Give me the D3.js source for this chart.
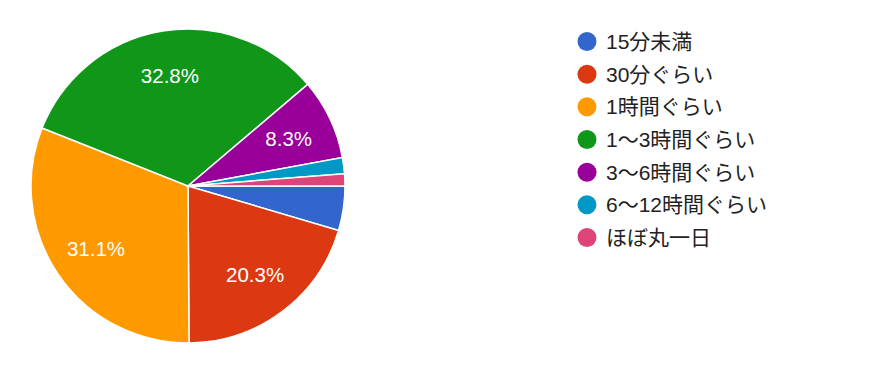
<!DOCTYPE html>
<html>
<head>
<meta charset="utf-8">
<script src="https://cdn.jsdelivr.net/npm/d3@7"></script>
<style>
  body { margin: 0; background: #fff; }
  text { font-family: "Liberation Sans", Arial, "Noto Sans CJK JP", sans-serif; }
</style>
</head>
<body>
<div id="chart"></div>
<script>
// answers, in order (n = 241)
const categories = ["15分未満", "30分ぐらい", "1時間ぐらい", "1～3時間ぐらい", "3～6時間ぐらい", "6～12時間ぐらい", "ほぼ丸一日"];
const counts = [11, 49, 75, 79, 20, 4, 3];
const colors = ["#3366cc", "#dc3912", "#ff9900", "#109618", "#990099", "#0099c6", "#dd4477"];

const W = 885, H = 368;
const cx = 188, cy = 186, R = 157;

const svg = d3.select("#chart").append("svg")
  .attr("width", W).attr("height", H);

const total = d3.sum(counts);
const data = categories.map((c, i) => ({name: c, value: counts[i], color: colors[i]}));

// starts at 3 o'clock, clockwise, keep order
const pie = d3.pie().value(d => d.value).sort(null)
  .startAngle(Math.PI / 2).endAngle(Math.PI / 2 + 2 * Math.PI);
const arcs = pie(data);

const arc = d3.arc().innerRadius(0).outerRadius(R);
const labelArc = d3.arc().innerRadius(R * 0.71).outerRadius(R * 0.71);

const g = svg.append("g").attr("transform", `translate(${cx},${cy})`);

g.selectAll("path")
  .data(arcs)
  .join("path")
  .attr("d", arc)
  .attr("fill", d => d.data.color)
  .attr("stroke", "#fff")
  .attr("stroke-width", 1.5);

const fmt = v => (v / total * 100).toFixed(1) + "%";

g.selectAll("text.lbl")
  .data(arcs.filter(d => d.data.value / total >= 0.05))
  .join("text")
  .attr("class", "lbl")
  .attr("transform", d => `translate(${labelArc.centroid(d)})`)
  .attr("text-anchor", "middle")
  .attr("dy", "0.36em")
  .attr("fill", "#fff")
  .attr("font-size", 20.5)
  .text(d => fmt(d.data.value));

// legend
const legY = d3.scalePoint().domain(categories).range([41.5, 237.5]);
const leg = svg.append("g");
const rows = leg.selectAll("g")
  .data(data)
  .join("g")
  .attr("transform", d => `translate(587,${legY(d.name)})`);

rows.append("circle")
  .attr("r", 9.5)
  .attr("fill", d => d.color);

rows.append("text")
  .attr("x", 19)
  .attr("dy", "0.36em")
  .attr("font-size", 21)
  .attr("fill", "#222")
  .text(d => d.name);
</script>
</body>
</html>
